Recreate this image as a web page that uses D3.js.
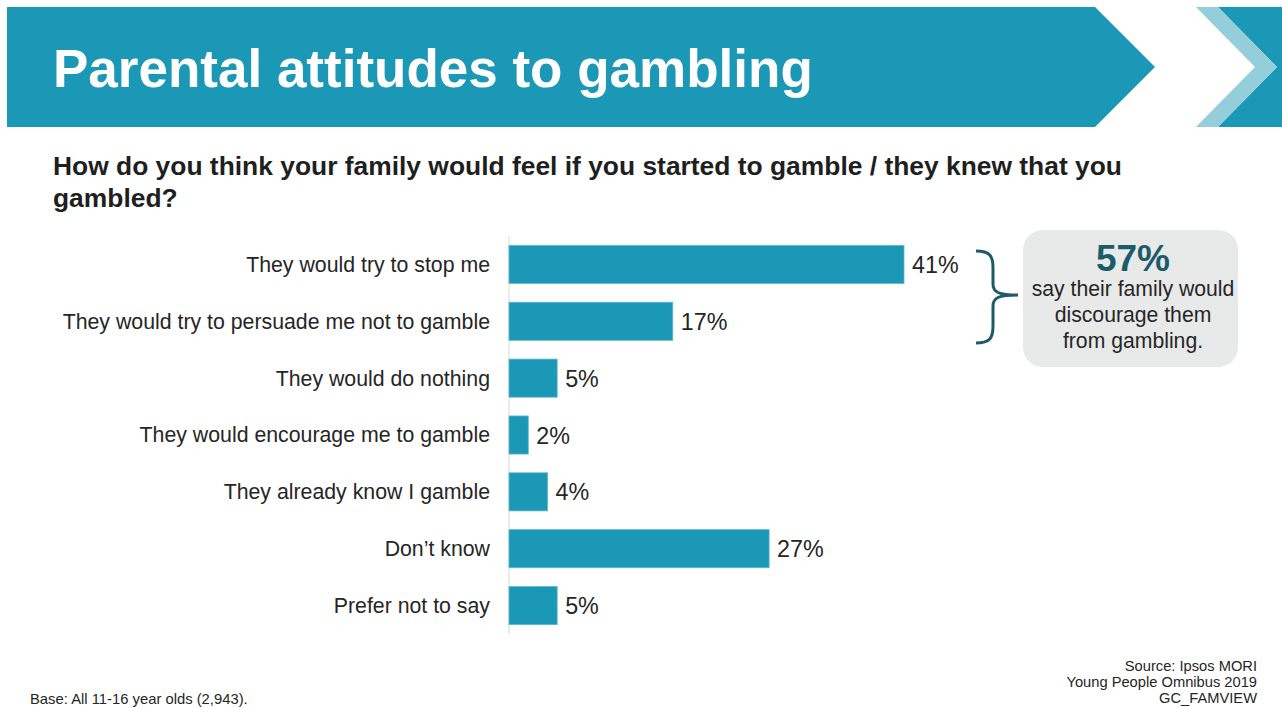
<!DOCTYPE html>
<html><head><meta charset="utf-8">
<script src="https://cdn.jsdelivr.net/npm/d3@7"></script>
<style>body{margin:0;background:#fff}svg{display:block;font-family:"Liberation Sans",Arial,sans-serif}</style>
</head><body>
<svg id="c" width="1282" height="708"></svg>
<script>
const categories = ["They would try to stop me","They would try to persuade me not to gamble","They would do nothing","They would encourage me to gamble","They already know I gamble","Don\u2019t know","Prefer not to say"];
const values = [41,17,5,2,4,27,5];
const valueLabels = ["41%","17%","5%","2%","4%","27%","5%"];
const calloutValue = "57%";
const calloutLines = ["say their family would","discourage them","from gambling."];
const title = "Parental attitudes to gambling";
const subtitleLines = ["How do you think your family would feel if you started to gamble / they knew that you","gambled?"];
const baseNote = "Base: All 11-16 year olds (2,943).";
const sourceLines = ["Source: Ipsos MORI","Young People Omnibus 2019","GC_FAMVIEW"];

const svg = d3.select("#c");
const teal = "#1b98b5";

// header
svg.append("polygon").attr("points","7,7 1095,7 1155,67 1095,127 7,127").attr("fill",teal);
svg.append("polygon").attr("points","1218,7 1282,7 1282,127 1218,127 1277,67").attr("fill",teal);
svg.append("polygon").attr("points","1196,7 1218,7 1277,67 1218,127 1196,127 1255,67").attr("fill","#93ceda");
svg.append("text").attr("x",53).attr("y",87).attr("fill","#fff").attr("font-weight","bold").attr("font-size",53).text(title);

subtitleLines.forEach((t,i)=>svg.append("text").attr("x",53).attr("y",175+i*32).attr("fill","#1f1f1f").attr("font-weight","bold").attr("font-size",26.4).text(t));

const x = d3.scaleLinear().domain([0,41]).range([509,904]);
const y = d3.scaleBand().domain(categories).range([236,634]).paddingInner(0.33).paddingOuter(0.165);

svg.append("line").attr("x1",509).attr("x2",509).attr("y1",236).attr("y2",634).attr("stroke","#d9d9d9").attr("stroke-width",1);

svg.selectAll("rect.bar").data(values).join("rect").attr("class","bar")
  .attr("x",x(0)).attr("y",(d,i)=>y(categories[i])).attr("width",d=>x(d)-x(0)).attr("height",y.bandwidth())
  .attr("fill",teal).attr("stroke","#5fb8cc").attr("stroke-width",0.8);

svg.selectAll("text.cat").data(categories).join("text").attr("class","cat")
  .attr("x",490).attr("y",d=>y(d)+y.bandwidth()/2).attr("dy","0.35em").attr("text-anchor","end")
  .attr("font-size",21.3).attr("fill","#262626").text(d=>d);

svg.selectAll("text.val").data(values).join("text").attr("class","val")
  .attr("x",d=>x(d)+8).attr("y",(d,i)=>y(categories[i])+y.bandwidth()/2).attr("dy","0.37em")
  .attr("font-size",23.3).attr("fill","#262626").text((d,i)=>valueLabels[i]);

// brace
const braceColor = "#1d5b6b";
svg.append("path").attr("d","M976,251 C990,251 993,256 993,268 L993,284 C993,292 998,295 1018,295 M976,343 C990,343 993,338 993,326 L993,306 C993,298 998,295 1018,295")
  .attr("fill","none").attr("stroke",braceColor).attr("stroke-width",3);

// callout
svg.append("rect").attr("x",1023).attr("y",230).attr("width",215).attr("height",137).attr("rx",20).attr("fill","#e8e9e9");
svg.append("text").attr("x",1133).attr("y",271).attr("text-anchor","middle").attr("font-weight","bold").attr("font-size",37).attr("fill","#1d5b6b").text(calloutValue);
calloutLines.forEach((t,i)=>svg.append("text").attr("x",1133).attr("y",296+i*26).attr("text-anchor","middle").attr("font-size",21.2).attr("fill","#262626").text(t));

svg.append("text").attr("x",30).attr("y",704).attr("font-size",14.8).attr("fill","#262626").text(baseNote);
sourceLines.forEach((t,i)=>svg.append("text").attr("x",1257).attr("y",671+i*16).attr("text-anchor","end").attr("font-size",14.7).attr("fill","#262626").text(t));
</script>
</body></html>
